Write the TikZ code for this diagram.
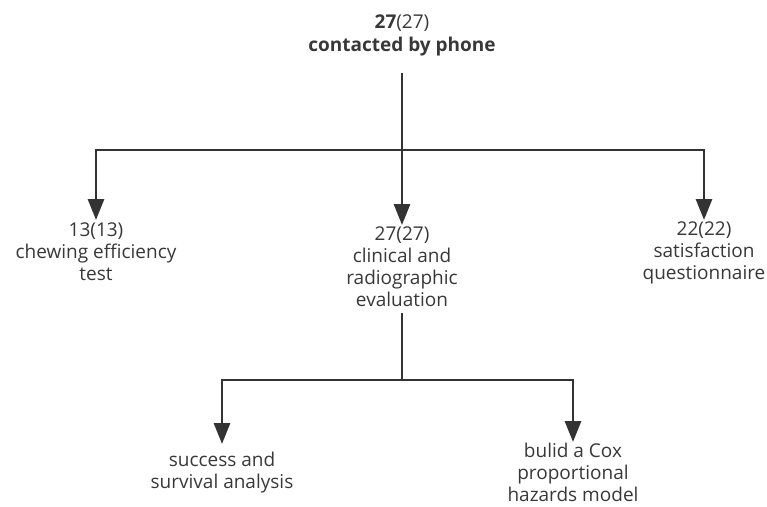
\documentclass[tikz,border=0pt]{standalone}
\usepackage{fontspec}
\setmainfont{Open Sans}
\usetikzlibrary{arrows.meta}
\definecolor{txt}{HTML}{383838}
\definecolor{ln}{HTML}{333333}
\begin{document}
\begin{tikzpicture}[x=1pt,y=-1pt,
  lbl/.style={align=center,inner sep=0pt,text=txt,font=\fontsize{19}{22}\selectfont},
  conn/.style={draw=ln,line width=2.9pt},
  arr/.style={conn,-{Triangle[length=21pt,width=16pt]}}]
\useasboundingbox (0,0) rectangle (767,506);
\node[lbl,anchor=north,font=\fontsize{19}{23}\selectfont] (top) at (402,15) {\textbf{27}(27)\\\textbf{contacted by phone}};
\node[lbl,anchor=north] (chew) at (96,223) {13(13)\\chewing efficiency\\test};
\node[lbl,anchor=north] (clin) at (402,227) {27(27)\\clinical and\\radiographic\\evaluation};
\node[lbl,anchor=north] (sat) at (704,222) {22(22)\\satisfaction\\questionnaire};
\node[lbl,anchor=north] (succ) at (222,452) {success and\\survival analysis};
\node[lbl,anchor=north] (cox) at (573,443) {bulid a Cox\\proportional\\hazards model};
\coordinate (t0) at ([yshift=-16pt]top.south);
\coordinate (j1) at (402,150);
\coordinate (m0) at ([yshift=-6pt]clin.south);
\coordinate (j2) at (402,380);
\draw[conn] (t0) -- (j1);
\draw[arr] (j1) -| ([yshift=3pt]chew.north);
\draw[arr] (j1) -| ([yshift=2pt]clin.north);
\draw[arr] (j1) -| ([yshift=2pt]sat.north);
\draw[conn] (m0) -- (j2);
\draw[arr] (j2) -| ([yshift=8pt]succ.north);
\draw[arr] (j2) -| ([yshift=1pt]cox.north);
\end{tikzpicture}
\end{document}
